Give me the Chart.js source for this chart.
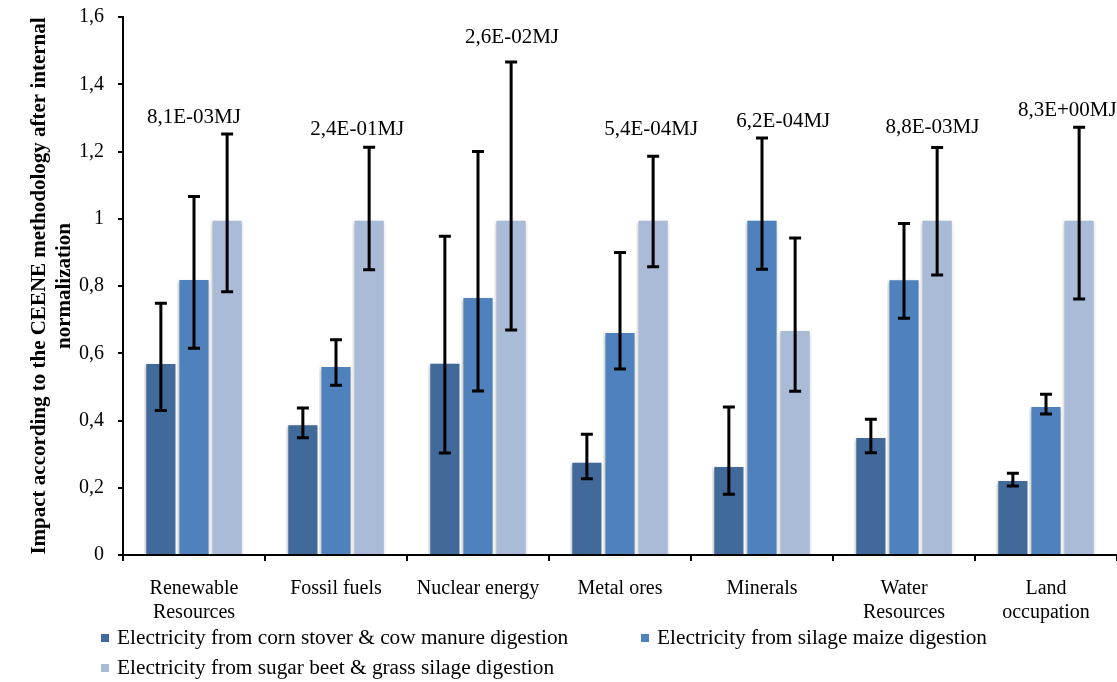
<!DOCTYPE html>
<html>
<head>
<meta charset="utf-8">
<script src="https://cdn.jsdelivr.net/npm/chart.js@4/dist/chart.umd.min.js"></script>
<style>
  html, body { margin: 0; padding: 0; background: #fff; }
  #wrap { width: 1117px; height: 682px; position: relative; }
</style>
</head>
<body>
<div id="wrap"><canvas id="chart"></canvas></div>
<script>
// categorias (eixo x)
const categories = [['Renewable', 'Resources'], 'Fossil fuels', 'Nuclear energy', 'Metal ores', 'Minerals', ['Water', 'Resources'], ['Land', 'occupation']]
const seriesNames = [
  'Electricity from corn stover & cow manure digestion',
  'Electricity from silage maize digestion',
  'Electricity from sugar beet & grass silage digestion',
]

// valores normalizados + limites das barras de erro
const cornStover      = [0.574, 0.392, 0.575, 0.280, 0.268, 0.354, 0.226]
const cornStoverLow   = [0.430, 0.349, 0.303, 0.227, 0.181, 0.304, 0.205]
const cornStoverHigh  = [0.749, 0.437, 0.948, 0.359, 0.440, 0.404, 0.243]
const silageMaize     = [0.824, 0.565, 0.770, 0.666, 1.000, 0.823, 0.446]
const silageMaizeLow  = [0.615, 0.505, 0.488, 0.553, 0.850, 0.704, 0.419]
const silageMaizeHigh = [1.066, 0.640, 1.200, 0.900, 1.240, 0.986, 0.478]
const sugarBeet       = [1.000, 1.000, 1.000, 1.000, 0.672, 1.000, 1.000]
const sugarBeetLow    = [0.783, 0.848, 0.669, 0.857, 0.487, 0.833, 0.761]
const sugarBeetHigh   = [1.252, 1.213, 1.466, 1.186, 0.943, 1.212, 1.272]

// valor absoluto de referência (rótulo acima de cada grupo) e nível do rótulo
const absoluteLabels = ['8,1E-03MJ', '2,4E-01MJ', '2,6E-02MJ', '5,4E-04MJ', '6,2E-04MJ', '8,8E-03MJ', '8,3E+00MJ']
const labelLevels    = [1.30, 1.264, 1.538, 1.264, 1.288, 1.27, 1.323]

const yTicks = [0, 0.2, 0.4, 0.6, 0.8, 1, 1.2, 1.4, 1.6]

const COLORS = ['#41699a', '#4f81bd', '#aabbd8']
const SERIF = '"Liberation Serif", "Times New Roman", serif'

Chart.defaults.font.family = SERIF
Chart.defaults.font.size = 20
Chart.defaults.color = '#000'

const errorLows  = [cornStoverLow, silageMaizeLow, sugarBeetLow]
const errorHighs = [cornStoverHigh, silageMaizeHigh, sugarBeetHigh]

const shadowPlugin = {
  id: 'shadow',
  beforeDatasetsDraw(chart) {
    const ctx = chart.ctx
    ctx.save()
    ctx.shadowColor = 'rgba(0,0,0,0.25)'
    ctx.shadowBlur = 4
    ctx.shadowOffsetX = -1
    ctx.shadowOffsetY = 2
  },
  afterDatasetsDraw(chart) {
    chart.ctx.restore()
  },
}

const errorBars = {
  id: 'errorBars',
  afterDatasetsDraw(chart) {
    const { ctx } = chart
    const y = chart.scales.y
    ctx.save()
    ctx.strokeStyle = '#000'
    ctx.lineWidth = 3
    chart.data.datasets.forEach((ds, di) => {
      chart.getDatasetMeta(di).data.forEach((bar, i) => {
        const top = y.getPixelForValue(errorHighs[di][i])
        const bot = y.getPixelForValue(errorLows[di][i])
        const x = bar.x
        ctx.beginPath()
        ctx.moveTo(x, top); ctx.lineTo(x, bot)
        ctx.moveTo(x - 6, top); ctx.lineTo(x + 6, top)
        ctx.moveTo(x - 6, bot); ctx.lineTo(x + 6, bot)
        ctx.stroke()
      })
    })
    ctx.restore()
  },
}

// deslocamento do rótulo (fração da categoria)
const labelShift = [0, 0.15, 0.24, 0.22, 0.15, 0.2, 0.15]

const absLabels = {
  id: 'absLabels',
  afterDraw(chart) {
    const { ctx } = chart
    const x = chart.scales.x, y = chart.scales.y
    const w = x.getPixelForValue(1) - x.getPixelForValue(0)
    ctx.save()
    ctx.font = '21px ' + SERIF
    ctx.fillStyle = '#000'
    ctx.textAlign = 'center'
    ctx.textBaseline = 'middle'
    absoluteLabels.forEach((t, i) => {
      ctx.fillText(t, x.getPixelForValue(i) + labelShift[i] * w, y.getPixelForValue(labelLevels[i]))
    })
    ctx.restore()
  },
}

const legendPlugin = {
  id: 'customLegend',
  afterDraw(chart) {
    const { ctx } = chart
    const pos = [[101, 638], [641, 638], [101, 668]]
    ctx.save()
    ctx.font = '21.3px ' + SERIF
    ctx.textBaseline = 'middle'
    ctx.textAlign = 'left'
    seriesNames.forEach((name, i) => {
      const [px, py] = pos[i]
      ctx.fillStyle = COLORS[i]
      ctx.fillRect(px, py - 4, 8, 8)
      ctx.fillStyle = '#000'
      ctx.fillText(name, px + 16, py)
    })
    ctx.restore()
  },
}

const series = [cornStover, silageMaize, sugarBeet]

new Chart(document.getElementById('chart'), {
  type: 'bar',
  data: {
    labels: categories,
    datasets: series.map((d, i) => ({
      label: seriesNames[i],
      data: d,
      backgroundColor: COLORS[i],
      borderColor: '#fff',
      borderWidth: 2,
      categoryPercentage: 0.7,
      barPercentage: 1,
    })),
  },
  options: {
    responsive: true,
    maintainAspectRatio: false,
    animation: false,
    layout: { padding: { top: 17, right: 0, bottom: 0, left: 0 } },
    plugins: {
      legend: { display: false },
      tooltip: { enabled: false },
    },
    scales: {
      x: {
        grid: { display: true, drawOnChartArea: false, color: '#000', tickLength: 6, lineWidth: 2, offset: true },
        border: { color: '#000', width: 2 },
        ticks: { padding: 16, maxRotation: 0, autoSkip: false, font: { size: 20 } },
        afterFit(scale) { scale.height = 127 },
      },
      y: {
        min: 0,
        max: 1.6,
        afterBuildTicks(scale) { scale.ticks = yTicks.map(v => ({ value: v })) },
        grid: { display: true, drawOnChartArea: false, color: '#000', tickLength: 5, lineWidth: 2 },
        border: { color: '#000', width: 2 },
        ticks: {
          padding: 14,
          font: { size: 20 },
          callback: v => String(Math.round(v * 10) / 10).replace('.', ','),
        },
        title: {
          display: true,
          text: ['Impact according to the CEENE methodology after internal', 'normalization'],
          font: { size: 21, weight: 'bold' },
          padding: { top: 27, bottom: 0 },
          lineHeight: 1.05,
        },
        afterFit(scale) {
          scale.width = 123
          scale.paddingTop = 0
          scale.paddingBottom = 0
        },
      },
    },
  },
  plugins: [shadowPlugin, errorBars, absLabels, legendPlugin],
})
</script>
</body>
</html>
